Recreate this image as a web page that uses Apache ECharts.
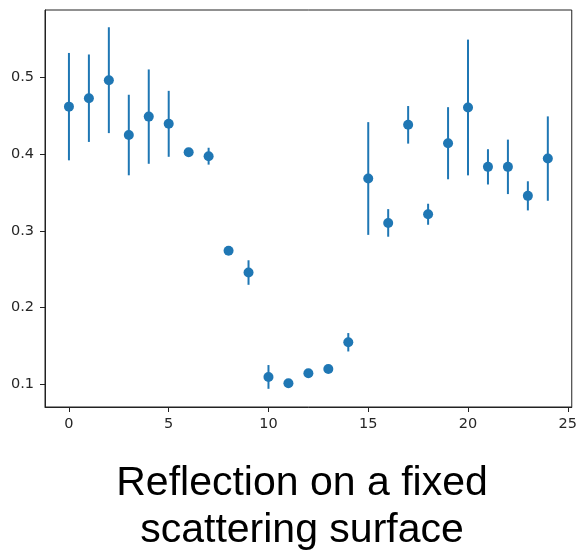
<!DOCTYPE html>
<html>
<head>
<meta charset="utf-8">
<script src="https://cdn.jsdelivr.net/npm/echarts@6/dist/echarts.min.js"></script>
<style>
html,body{margin:0;padding:0;background:#fff;}
#chart{width:580px;height:552px;}
</style>
</head>
<body>
<div id="chart"></div>
<script>
var xs = [0,1,2,3,4,5,6,7,8,9,10,11,12,13,14,15,16,17,18,19,20,21,22,23,24];
var values = [0.462, 0.473, 0.4965, 0.425, 0.449, 0.4396, 0.4026, 0.3974, 0.274, 0.2457, 0.1096, 0.1013, 0.1143, 0.12, 0.1548, 0.3683, 0.3104, 0.4383, 0.3217, 0.4143, 0.4609, 0.3835, 0.3835, 0.3457, 0.3943];
var errors = [0.070, 0.057, 0.069, 0.0525, 0.0615, 0.043, 0.005, 0.011, 0.004, 0.016, 0.0155, 0.002, 0.002, 0.002, 0.012, 0.0735, 0.018, 0.0245, 0.0137, 0.047, 0.0885, 0.023, 0.0355, 0.019, 0.055];
var xTicks = [0, 5, 10, 15, 20, 25];
var yTicks = [0.1, 0.2, 0.3, 0.4, 0.5];
var titleText = "Reflection on a fixed\nscattering surface";

var color = '#1f77b4';
var chart = echarts.init(document.getElementById('chart'), null, {renderer: 'canvas'});
var pts = xs.map(function (x, i) { return [x, values[i]]; });
var errData = xs.map(function (x, i) { return [x, values[i] - errors[i], values[i] + errors[i]]; });

chart.setOption({
  animation: false,
  backgroundColor: '#fff',
  title: {
    text: titleText,
    left: 297,
    top: 455,
    textAlign: 'center',
    textStyle: {fontFamily: 'Liberation Sans', fontSize: 41, fontWeight: 'normal', color: '#000', lineHeight: 47}
  },
  grid: {left: 45, right: 2, top: 10, bottom: 145, show: true, borderColor: '#222', borderWidth: 1, backgroundColor: 'transparent'},
  xAxis: {
    type: 'value', min: -1.2, max: 25.2,
    axisLine: {show: true, onZero: false, lineStyle: {color: '#222', width: 1}},
    axisTick: {show: true, customValues: xTicks, length: 5, lineStyle: {color: '#222'}},
    axisLabel: {customValues: xTicks, margin: 10, fontFamily: 'DejaVu Sans', fontSize: 14.5, color: '#262626'},
    splitLine: {show: false}
  },
  yAxis: {
    type: 'value', min: 0.0704, max: 0.588,
    axisLine: {show: true, onZero: false, lineStyle: {color: '#222', width: 1}},
    axisTick: {show: true, customValues: yTicks, length: 5, lineStyle: {color: '#222'}},
    axisLabel: {customValues: yTicks, margin: 11, fontFamily: 'DejaVu Sans', fontSize: 14.5, color: '#262626',
      formatter: function (v) { return v.toFixed(1); }},
    splitLine: {show: false}
  },
  series: [
    {
      type: 'custom',
      data: errData,
      z: 2,
      renderItem: function (params, api) {
        var lo = api.coord([api.value(0), api.value(1)]);
        var hi = api.coord([api.value(0), api.value(2)]);
        return {
          type: 'line',
          shape: {x1: lo[0], y1: lo[1], x2: hi[0], y2: hi[1]},
          style: {stroke: color, lineWidth: 2}
        };
      }
    },
    {
      type: 'scatter',
      data: pts,
      symbol: 'circle',
      symbolSize: 10,
      z: 3,
      itemStyle: {color: color, opacity: 1}
    }
  ]
});
</script>
</body>
</html>
